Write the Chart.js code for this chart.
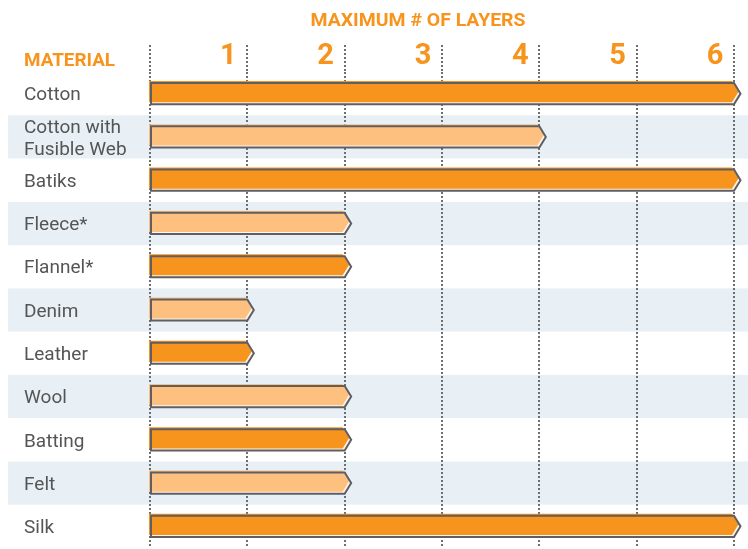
<!DOCTYPE html>
<html><head><meta charset="utf-8">
<script src="https://cdn.jsdelivr.net/npm/chart.js@4/dist/chart.umd.min.js"></script>
<style>html,body{margin:0;padding:0;background:#fff}canvas{display:block}</style>
</head><body>
<canvas id="c" width="748" height="549"></canvas>
<script>
// ---- data ----
const materials = ['Cotton', ['Cotton with', 'Fusible Web'], 'Batiks', 'Fleece*', 'Flannel*', 'Denim', 'Leather', 'Wool', 'Batting', 'Felt', 'Silk'];
const maxLayers = [6, 4, 6, 2, 2, 1, 1, 2, 2, 2, 6];
const layerTicks = [0, 1, 2, 3, 4, 5, 6];
const chartTitle = 'MAXIMUM # OF LAYERS';
const axisHeader = 'MATERIAL';

// ---- style ----
const ORANGE = '#F7941D';
const LIGHT = '#FEC07E';
const BAND = '#E8F0F6';
const OUTLINE = '#5E5E64';
const barColors = maxLayers.map((v, i) => i % 2 === 0 ? ORANGE : LIGHT);

function drawCondensed(ctx, text, x, y, font, width, align) {
  ctx.save();
  ctx.font = font;
  const w = ctx.measureText(text).width;
  const s = width / w;
  ctx.translate(align === 'center' ? x - width / 2 : x, y);
  ctx.scale(s, 1);
  ctx.textAlign = 'left';
  ctx.textBaseline = 'alphabetic';
  ctx.fillStyle = ORANGE;
  ctx.fillText(text, 0, 0);
  ctx.restore();
}

const decor = {
  id: 'decor',
  beforeDraw(chart) {
    const ctx = chart.ctx;
    const ys = chart.scales.y;
    const area = chart.chartArea;
    const rowH = (area.bottom - area.top) / materials.length;
    ctx.save();
    ctx.fillStyle = BAND;
    materials.forEach((m, i) => {
      if (i % 2 === 1) {
        const cy = ys.getPixelForValue(i);
        ctx.fillRect(8, cy - rowH / 2, chart.width - 8, rowH);
      }
    });
    ctx.restore();
    drawCondensed(ctx, chartTitle, 418, 26, 'bold 19px Roboto', 215, 'center');
    drawCondensed(ctx, axisHeader, 24, 66, 'bold 19px Roboto', 91, 'left');
  },
  afterDatasetsDraw(chart) {
    const ctx = chart.ctx;
    const meta = chart.getDatasetMeta(0);
    const tip = 6.5;
    meta.data.forEach((bar, i) => {
      const h = bar.height;
      const x0 = bar.base, x1 = bar.x, cy = bar.y;
      const t = cy - h / 2, b = cy + h / 2;
      const path = (dx, dy) => {
        ctx.beginPath();
        ctx.moveTo(x0 + dx, t + dy);
        ctx.lineTo(x1 + dx, t + dy);
        ctx.lineTo(x1 + tip + dx, cy + dy);
        ctx.lineTo(x1 + dx, b + dy);
        ctx.lineTo(x0 + dx, b + dy);
        ctx.closePath();
      };
      ctx.save();
      path(0, 0);
      ctx.fillStyle = '#FFF6EC';
      ctx.fill();
      path(-2, -2);
      ctx.fillStyle = barColors[i];
      ctx.fill();
      path(0, 0);
      ctx.lineWidth = 2;
      ctx.lineJoin = 'miter';
      ctx.strokeStyle = OUTLINE;
      ctx.stroke();
      ctx.restore();
    });
  }
};

new Chart(document.getElementById('c'), {
  type: 'bar',
  data: {
    labels: materials,
    datasets: [{
      data: maxLayers,
      backgroundColor: 'rgba(0,0,0,0)',
      borderWidth: 0,
      categoryPercentage: 1,
      barPercentage: 0.49
    }]
  },
  options: {
    indexAxis: 'y',
    responsive: false,
    animation: false,
    devicePixelRatio: 1,
    layout: { padding: { left: 24, right: 14, top: 0, bottom: 1 } },
    plugins: { legend: { display: false }, tooltip: { enabled: false }, title: { display: false } },
    scales: {
      x: {
        position: 'top',
        min: 0,
        max: 6,
        afterBuildTicks(scale) { scale.ticks = layerTicks.map(v => ({ value: v })); },
        afterFit(scale) { scale.height = 72; scale.paddingLeft = 0; scale.paddingRight = 0; },
        ticks: {
          callback: v => v === 0 ? '' : String(v),
          color: ORANGE,
          font: { family: 'Roboto', weight: 'bold', size: 29 },
          labelOffset: -19,
          padding: -29,
          maxRotation: 0,
          autoSkip: false
        },
        grid: {
          color: '#6E6E6E',
          lineWidth: 2,
          drawTicks: true,
          tickLength: 27,
          tickColor: '#6E6E6E',
          tickWidth: 2,
          tickBorderDash: [2, 2]
        },
        border: { display: false, dash: [2, 2] }
      },
      y: {
        afterFit(scale) { scale.width = 126; scale.paddingTop = 0; scale.paddingBottom = 0; },
        ticks: {
          crossAlign: 'far',
          color: '#555555',
          font: { family: 'Roboto', size: 19, lineHeight: 1.15 },
          padding: 0,
          labelOffset: 2,
          autoSkip: false
        },
        grid: { display: false },
        border: { display: false }
      }
    }
  },
  plugins: [decor]
});
</script>
</body></html>
